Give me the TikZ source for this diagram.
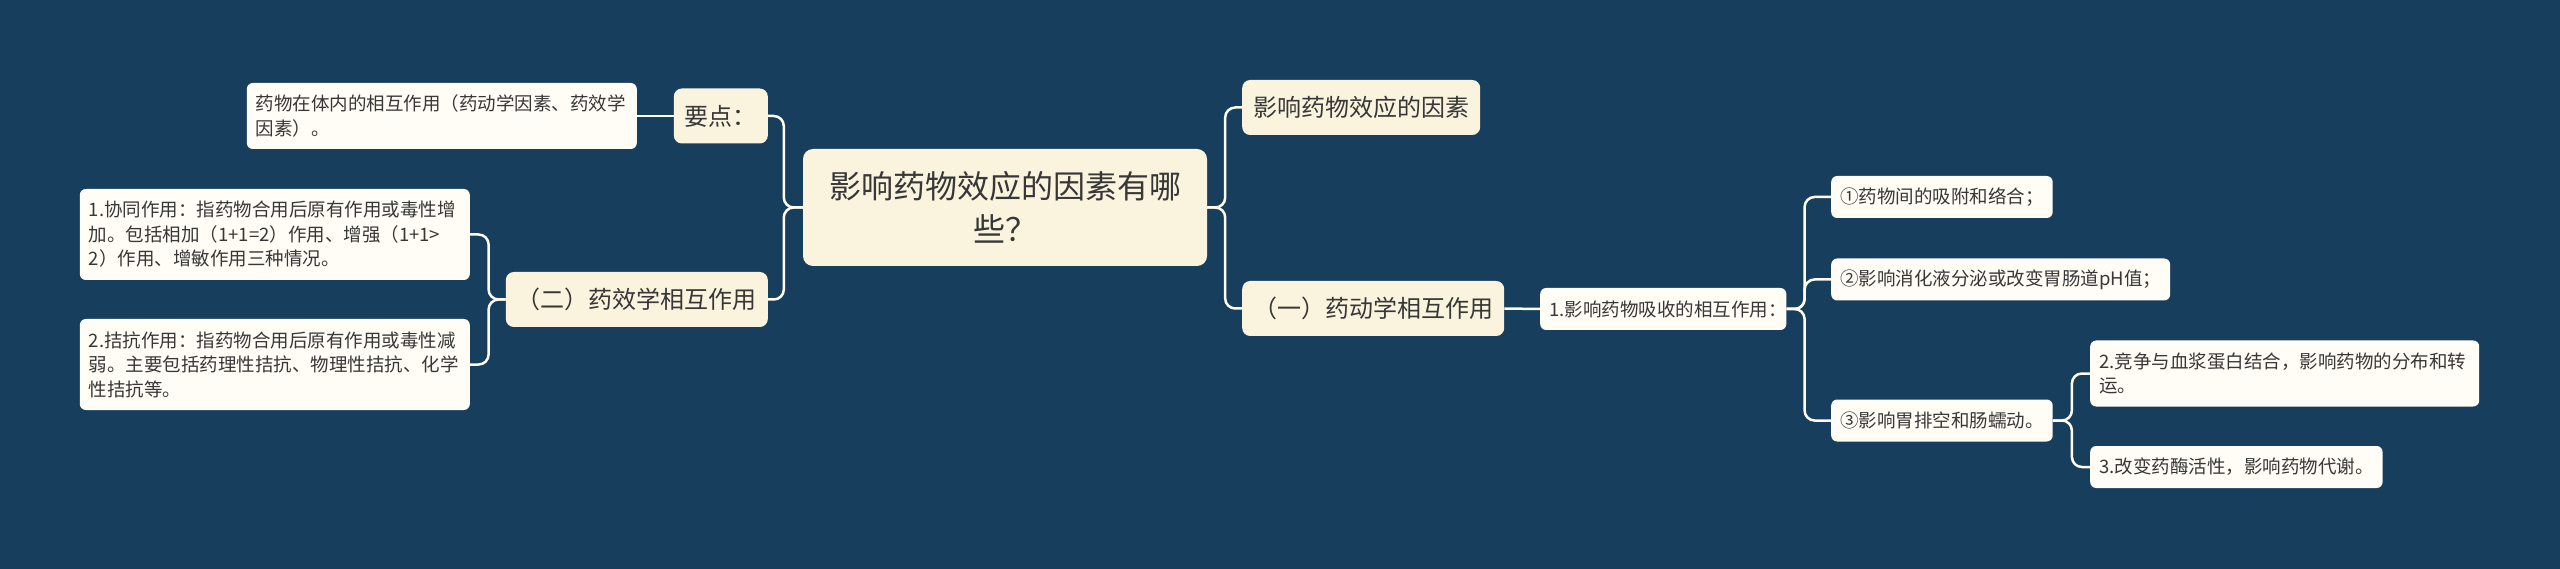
\documentclass[tikz,border=0pt]{standalone}
\usepackage{fontspec}
\setmainfont{Noto Sans CJK SC}
\usepackage{tikz}

\definecolor{bgblue}{RGB}{24,62,93}
\definecolor{cream}{RGB}{250,244,222}
\definecolor{leafwhite}{RGB}{255,253,246}
\definecolor{inkgrey}{RGB}{55,55,55}
\definecolor{linecol}{RGB}{255,252,240}

\begin{document}
\begin{tikzpicture}[x=1pt,y=-1pt,
    rootbox/.style={shape=rectangle,fill=cream,rounded corners=10pt,text=inkgrey,
      font=\fontsize{32pt}{43pt}\selectfont,align=center,inner sep=0pt},
    topic/.style={shape=rectangle,fill=cream,rounded corners=8pt,text=inkgrey,
      font=\fontsize{24pt}{30pt}\selectfont,inner xsep=11pt,inner ysep=0pt,
      minimum height=55pt},
    leaf/.style={shape=rectangle,fill=leafwhite,rounded corners=6pt,text=inkgrey,
      font=\fontsize{18.5pt}{24.5pt}\selectfont,inner xsep=9pt,inner ysep=0pt,
      align=left,minimum height=42pt},
    link/.style={draw=linecol,line width=2.5pt,rounded corners=10pt}]

      \fill[bgblue] (0,0) rectangle (2560,569);
      \useasboundingbox (0,0) rectangle (2560,569);

      % centre
      \path node (root) at (1005,207.5)
            [rootbox,minimum width=404pt,minimum height=117pt]
            {影响药物效应的因素有哪\\些？};

      % left branch
      \path node (yd) at (768,116) [topic,anchor=east] {要点：};
      \path node (yd1) at (637,116) [leaf,anchor=east,text width=372pt,minimum height=66pt]
            {药物在体内的相互作用（药动学因素、药效学\\因素）。};

      \path node (er) at (768,299.5) [topic,anchor=east] {（二）药效学相互作用};
      \path node (er1) at (470,234.5) [leaf,anchor=east,text width=372pt,minimum height=91pt]
            {1.协同作用：指药物合用后原有作用或毒性增\\加。包括相加（1+1=2）作用、增强（1+1>\\2）作用、增敏作用三种情况。};
      \path node (er2) at (470,364.5) [leaf,anchor=east,text width=372pt,minimum height=91pt]
            {2.拮抗作用：指药物合用后原有作用或毒性减\\弱。主要包括药理性拮抗、物理性拮抗、化学\\性拮抗等。};

      % right branch
      \path node (fac) at (1242,107.5) [topic,anchor=west] {影响药物效应的因素};
      \path node (yi) at (1242,308.5) [topic,anchor=west] {（一）药动学相互作用};

      \path node (xs) at (1540,309) [leaf,anchor=west]
            {1.影响药物吸收的相互作用\makebox[0.5em][l]{：}};
      \path node (a1) at (1831,197) [leaf,anchor=west] {①药物间的吸附和络合；};
      \path node (a2) at (1831,279.5) [leaf,anchor=west] {②影响消化液分泌或改变胃肠道pH值；};
      \path node (a3) at (1831,420.5) [leaf,anchor=west] {③影响胃排空和肠蠕动。};

      \path node (b1) at (2090,373.5) [leaf,anchor=west,text width=371pt,minimum height=66pt]
            {2.竞争与血浆蛋白结合，影响药物的分布和转\\运。};
      \path node (b2) at (2090,467) [leaf,anchor=west] {3.改变药酶活性，影响药物代谢。};

      % connectors
      \draw[link] (root.west) -- ++(-19,0) |- (yd.east);
      \draw[link] (root.west) -- ++(-19,0) |- (er.east);
      \draw[link] (yd.west) -- (yd1.east);
      \draw[link] (er.west) -- ++(-17,0) |- (er1.east);
      \draw[link] (er.west) -- ++(-17,0) |- (er2.east);

      \draw[link] (root.east) -- ++(18,0) |- (fac.west);
      \draw[link] (root.east) -- ++(18,0) |- (yi.west);
      \draw[link] (yi.east) -- (xs.west);
      \draw[link] (xs.east) -- ++(18,0) |- (a1.west);
      \draw[link] (xs.east) -- ++(18,0) |- (a2.west);
      \draw[link] (xs.east) -- ++(18,0) |- (a3.west);
      \draw[link] (a3.east) -- ++(19,0) |- (b1.west);
      \draw[link] (a3.east) -- ++(19,0) |- (b2.west);
    \end{tikzpicture}
\end{document}
